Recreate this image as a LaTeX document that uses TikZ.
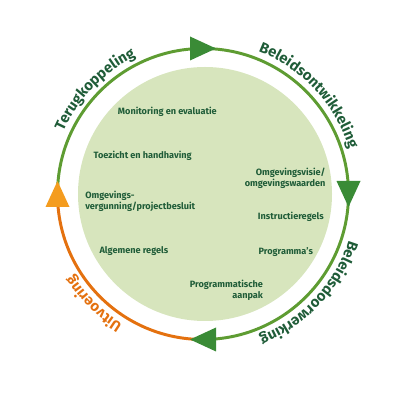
\documentclass[tikz,border=0pt]{standalone}
\usepackage{fontspec}
\setmainfont{Fira Sans}
\usetikzlibrary{decorations.text}
\definecolor{ringgreen}{HTML}{5E9C32}
\definecolor{arrowgreen}{HTML}{3A8B36}
\definecolor{textgreen}{HTML}{1F5C38}
\definecolor{innergreen}{HTML}{D7E5BD}
\definecolor{ringorange}{HTML}{E4710F}
\definecolor{arroworange}{HTML}{F49C1F}
\tikzset{
	item/.style={font=\bfseries\fontsize{6.5}{7.9}\selectfont, text=textgreen, inner sep=0pt},
	ring/.style={line width=2.1pt},
}

\begin{document}
\begin{tikzpicture}[x=0.025cm, y=0.025cm]
	\useasboundingbox (0,0) rectangle (400,400);
	\coordinate (c) at (203,206);
	\coordinate (m) at (205,206);

	\fill[innergreen] (m) circle[radius=127];
	\draw[ring, ringgreen] (c) ++(180:145.5) arc[start angle=180, end angle=-90, radius=145.5];
	\draw[ring, ringorange] (c) ++(-90:145.5) arc[start angle=-90, end angle=-180, radius=145.5];

	\foreach \a/\col in {90/arrowgreen, 0/arrowgreen, -90/arrowgreen, 180/arroworange}
		\fill[\col, shift={(c)}, rotate=\a] (133.5,13) -- (157.5,13) -- (145.5,-13) -- cycle;

	\path[decorate, decoration={text along path, text align=center,
		text={|\bfseries\fontsize{10.5}{12}\selectfont\color{textgreen}|Terugkoppeling}}]
		(c) ++(176:153) arc[start angle=176, end angle=96, radius=153];
	\path[decorate, decoration={text along path, text align=center,
		text={|\bfseries\fontsize{10.5}{12}\selectfont\color{textgreen}|Beleidsontwikkeling}}]
		(c) ++(85:153) arc[start angle=85, end angle=1, radius=153];
	\path[decorate, decoration={text along path, text align=center,
		text={|\bfseries\fontsize{10.5}{12}\selectfont\color{textgreen}|Beleidsdoorwerking}}]
		(c) ++(-1:153) arc[start angle=-1, end angle=-85, radius=153];
	\path[decorate, decoration={text along path, text align=center,
		text={|\bfseries\fontsize{10.5}{12}\selectfont\color{ringorange}|Uitvoering}}]
		(c) ++(-95:153) arc[start angle=-95, end angle=-175, radius=153];

	\node (monitoring)[item, anchor=base west] at (117.7,285.7) {Monitoring en evaluatie};
	\node (toezicht)[item, anchor=base west] at (93.3,241.7) {Toezicht en handhaving};
	\node (vergunning)[item, anchor=base west, align=left] at (85,190.7) {Omgevings-\\vergunning/projectbesluit};
	\node (regels)[item, anchor=base west] at (99.3,146) {Algemene regels};
	\node (visie)[item, anchor=base east, align=right] at (325.7,213.3) {Omgevingsvisie/\\omgevingswaarden};
	\node (instructie)[item, anchor=base west] at (257.7,180) {Instructieregels};
	\node (programma)[item, anchor=base west] at (258.3,145.7) {Programma's};
	\node (aanpak)[item, anchor=base east, align=right] at (263.3,101) {Programmatische\\aanpak};
\end{tikzpicture}
\end{document}
